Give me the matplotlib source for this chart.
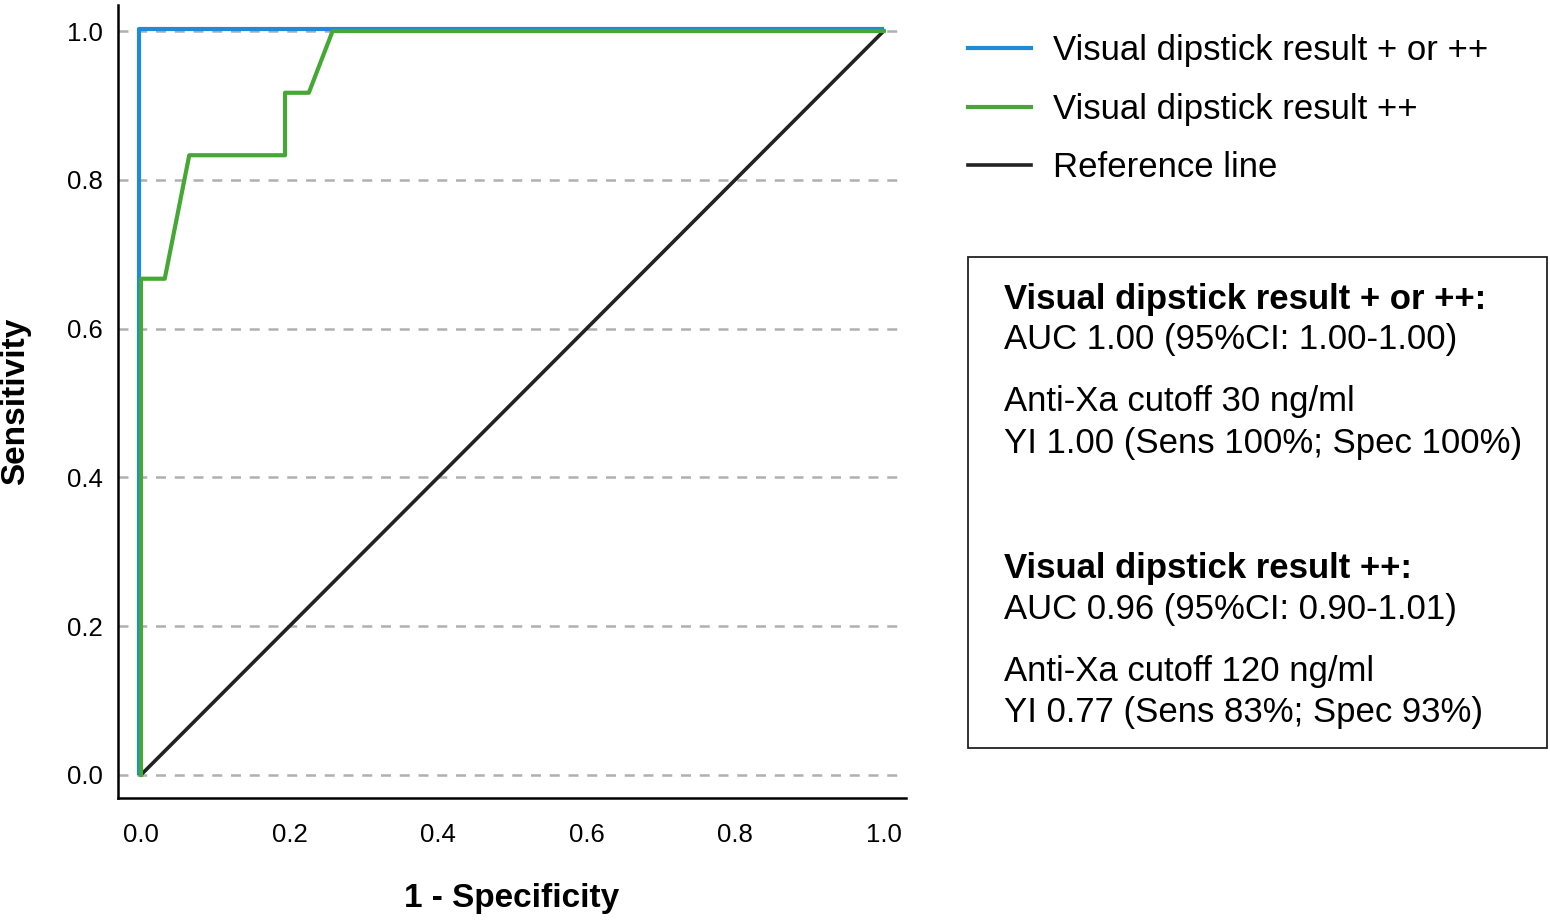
import matplotlib
matplotlib.use("Agg")
import matplotlib.pyplot as plt
from matplotlib.patches import Rectangle
from matplotlib.transforms import offset_copy

plt.rcParams['font.family'] = ['Liberation Sans', 'DejaVu Sans']

# ROC data
fpr_plus = [0.0, 0.0, 1.0]
tpr_plus = [0.0, 1.0, 1.0]

fpr_pp = [0.0, 0.0, 0.032, 0.065, 0.194, 0.194, 0.226, 0.258, 1.0]
tpr_pp = [0.0, 0.667, 0.667, 0.833, 0.833, 0.917, 0.917, 1.0, 1.0]

ref_x = [0.0, 1.0]
ref_y = [0.0, 1.0]

ticks = [0.0, 0.2, 0.4, 0.6, 0.8, 1.0]
labels = ["Visual dipstick result + or ++", "Visual dipstick result ++", "Reference line"]

fig = plt.figure(figsize=(15.5, 9.21), dpi=100)
ax = fig.add_axes([0.0761, 0.1336, 0.5084, 0.861])

for t in ticks:
    ax.axhline(t, color="#b0b0b0", lw=1.8, ls=(0, (4, 3.5)), zorder=1)

# blue drawn a hair up-left like the original rendering
shift = offset_copy(ax.transData, fig=fig, x=-2, y=2, units='dots')
l2, = ax.plot(fpr_pp, tpr_pp, color="#45a835", lw=3, zorder=3)
l1, = ax.plot(fpr_plus, tpr_plus, color="#1f8ad6", lw=3, zorder=2, transform=shift)
l3, = ax.plot(ref_x, ref_y, color="#222222", lw=2.6, zorder=2)

ax.set_xlim(-0.031, 1.03)
ax.set_ylim(-0.031, 1.035)
ax.set_xticks(ticks)
ax.set_yticks(ticks)
ax.set_xticklabels([f"{t:.1f}" for t in ticks])
ax.set_yticklabels([f"{t:.1f}" for t in ticks])
ax.tick_params(axis='x', length=0, pad=18, labelsize=18.5)
ax.tick_params(axis='y', length=0, pad=11, labelsize=18.5)
for s in ["top", "right"]:
    ax.spines[s].set_visible(False)
for s in ["left", "bottom"]:
    ax.spines[s].set_linewidth(1.8)

ax.set_xlabel("1 - Specificity", fontsize=24, fontweight="bold", labelpad=26)
ax.set_ylabel("Sensitivity", fontsize=24, fontweight="bold", labelpad=26)

fig.legend([l1, l2, l3], labels, loc="upper left", bbox_to_anchor=(968 / 1550, 1 - 34 / 921),
           frameon=False, fontsize=25, handlelength=1.8, handletextpad=0.65,
           labelspacing=0.74, borderpad=0, borderaxespad=0)

fig.patches.append(Rectangle((968 / 1550, 1 - 748 / 921), (1547 - 968) / 1550, (748 - 257) / 921,
                             transform=fig.transFigure, fill=False, edgecolor="#222222", lw=1.3))

x0 = 1004 / 1550
def line(ypix, s, bold=False):
    fig.text(x0, 1 - ypix / 921, s, fontsize=25, fontweight="bold" if bold else "normal",
             va="center", ha="left")

line(299, "Visual dipstick result + or ++:", True)
line(340, "AUC 1.00 (95%CI: 1.00-1.00)")
line(402, "Anti-Xa cutoff 30 ng/ml")
line(443, "YI 1.00 (Sens 100%; Spec 100%)")
line(568, "Visual dipstick result ++:", True)
line(609, "AUC 0.96 (95%CI: 0.90-1.01)")
line(671, "Anti-Xa cutoff 120 ng/ml")
line(712, "YI 0.77 (Sens 83%; Spec 93%)")

fig.savefig("out.png", dpi=100)
